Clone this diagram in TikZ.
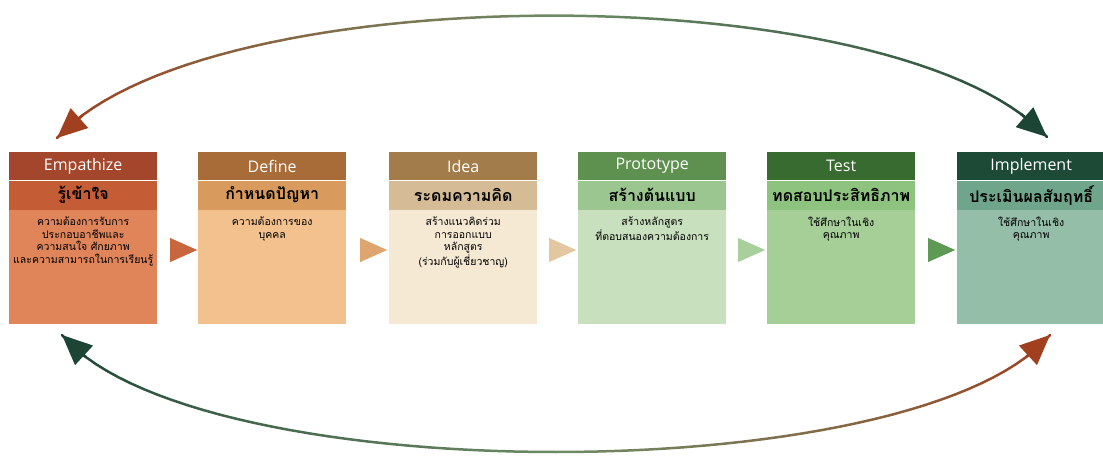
\documentclass[tikz,border=0pt]{standalone}
\usepackage{fontspec}
\setmainfont{Open Sans}
\newfontfamily\thaifont[Script=Thai]{Loma}
\usetikzlibrary{positioning,shapes.geometric,arrows.meta}

\definecolor{emphd}{HTML}{A4462B}
\definecolor{emband}{HTML}{C45C35}
\definecolor{embody}{HTML}{E0855A}
\definecolor{defhd}{HTML}{A86C38}
\definecolor{defband}{HTML}{D99A5D}
\definecolor{defbody}{HTML}{F3C18D}
\definecolor{ideahd}{HTML}{A27D4B}
\definecolor{ideaband}{HTML}{D6BC96}
\definecolor{ideabody}{HTML}{F6E9D3}
\definecolor{prohd}{HTML}{5E9150}
\definecolor{proband}{HTML}{9CC68F}
\definecolor{probody}{HTML}{C8E0BE}
\definecolor{testhd}{HTML}{386B2F}
\definecolor{testband}{HTML}{8EC27F}
\definecolor{testbody}{HTML}{A6CF98}
\definecolor{implhd}{HTML}{1D4A37}
\definecolor{implband}{HTML}{6FA68B}
\definecolor{implbody}{HTML}{95BEA9}
\definecolor{tri1}{HTML}{C8663E}
\definecolor{tri2}{HTML}{DFA56E}
\definecolor{tri3}{HTML}{E2C7A0}
\definecolor{tri4}{HTML}{A8D09C}
\definecolor{tri5}{HTML}{5E9A55}
\definecolor{rust}{HTML}{A0401F}
\definecolor{midg}{HTML}{6E8A66}
\definecolor{darkg}{HTML}{1D4535}

\tikzset{
  head/.style={fill=#1, minimum width=148pt, minimum height=28pt, inner sep=0pt,
    text=white, font=\fontsize{16}{16}\selectfont},
  band/.style={fill=#1, minimum width=148pt, minimum height=29pt, inner sep=0pt,
    font=\thaifont\bfseries\fontsize{16}{16}\selectfont},
  body/.style={fill=#1, minimum width=148pt, inner xsep=4pt, inner ysep=7pt,
    font=\thaifont\fontsize{10.5}{12.5}\selectfont},
  tri/.style={isosceles triangle, isosceles triangle stretches, minimum width=24pt,
    minimum height=27pt, inner sep=0pt, fill=#1},
  arcseg/.style={line width=2.5pt, line cap=round},
  arctip/.style={line width=2.5pt, -{Triangle[length=30pt,width=26pt]}}
}
\newcommand{\bodytext}[1]{\parbox[t][100pt][t]{140pt}{\centering #1}}
% colour along an arc: 0 = first colour, 100 = last colour
\newcommand{\arcmix}[4]{%
  \ifnum#1<50 \pgfmathtruncatemacro{\q}{2*#1}\colorlet{segc}{#3!\q!#2}%
  \else \pgfmathtruncatemacro{\q}{2*#1-100}\colorlet{segc}{#4!\q!#3}\fi}

\begin{document}
\begin{tikzpicture}[x=1pt, y=-1pt]
  \useasboundingbox (0,0) rectangle (1103,457);

  % stages
  \node[head=emphd, anchor=north west] (emp) at (9,152) {Empathize};
  \node[band=emband, below=0pt of emp] (empth) {รู้เข้าใจ};
  \node[body=embody, below=0pt of empth] (empbody) {\bodytext{ความต้องการรับการ\\ประกอบอาชีพและ\\ความสนใจ ศักยภาพ\\และความสามารถในการเรียนรู้}};

  \node[head=defhd, anchor=north west] (def) at (198,152) {Define};
  \node[band=defband, below=0pt of def] (defth) {กำหนดปัญหา};
  \node[body=defbody, below=0pt of defth] (defbody) {\bodytext{ความต้องการของ\\บุคคล}};

  \node[head=ideahd, anchor=north west] (idea) at (389,152) {Idea};
  \node[band=ideaband, below=0pt of idea] (ideath) {ระดมความคิด};
  \node[body=ideabody, below=0pt of ideath] (ideabody) {\bodytext{สร้างแนวคิดร่วม\\การออกแบบ\\หลักสูตร\\(ร่วมกับผู้เชี่ยวชาญ)}};

  \node[head=prohd, anchor=north west] (pro) at (578,152) {Prototype};
  \node[band=proband, below=0pt of pro] (proth) {สร้างต้นแบบ};
  \node[body=probody, below=0pt of proth] (probody) {\bodytext{สร้างหลักสูตร\\ที่ตอบสนองความต้องการ}};

  \node[head=testhd, anchor=north west] (test) at (767,152) {Test};
  \node[band=testband, below=0pt of test] (testth) {ทดสอบประสิทธิภาพ};
  \node[body=testbody, below=0pt of testth] (testbody) {\bodytext{ใช้ศึกษาในเชิง\\คุณภาพ}};

  \node[head=implhd, anchor=north west] (impl) at (957,152) {Implement};
  \node[band=implband, below=0pt of impl] (implth) {ประเมินผลสัมฤทธิ์};
  \node[body=implbody, below=0pt of implth] (implbody) {\bodytext{ใช้ศึกษาในเชิง\\คุณภาพ}};

  % steps
  \node[tri=tri1] (go1) at (178,250) {};
  \node[tri=tri2] (go2) at (368,250) {};
  \node[tri=tri3] (go3) at (557,250) {};
  \node[tri=tri4] (go4) at (746,250) {};
  \node[tri=tri5] (go5) at (936,250) {};

  % loops
  \coordinate (topL) at (57,138);
  \coordinate (topR) at (1047,137);
  \coordinate (botL) at (62,335);
  \coordinate (botR) at (1050,335);
  \path (topL) .. controls (205,-25) and (899,-25) .. (topR)
    \foreach \k in {1,...,59} {coordinate[pos=\k/60] (ta\k)};
  \path (botL) .. controls (194,491) and (918,491) .. (botR)
    \foreach \k in {1,...,59} {coordinate[pos=\k/60] (ba\k)};
  \coordinate (ta0) at (topL); \coordinate (ta60) at (topR);
  \coordinate (ba0) at (botL); \coordinate (ba60) at (botR);
  \foreach \k in {0,...,59} {
    \pgfmathtruncatemacro{\j}{\k+1}
    \pgfmathtruncatemacro{\p}{100*\k/59}
    \arcmix{\p}{rust}{midg}{darkg}
    \draw[arcseg, segc] (ta\k) -- (ta\j);
    \arcmix{\p}{darkg}{midg}{rust}
    \draw[arcseg, segc] (ba\k) -- (ba\j);
  }
  \draw[arctip, rust] (ta3) -- (topL);
  \draw[arctip, darkg] (ta57) -- (topR);
  \draw[arctip, darkg] (ba3) -- (botL);
  \draw[arctip, rust] (ba57) -- (botR);
\end{tikzpicture}
\end{document}
